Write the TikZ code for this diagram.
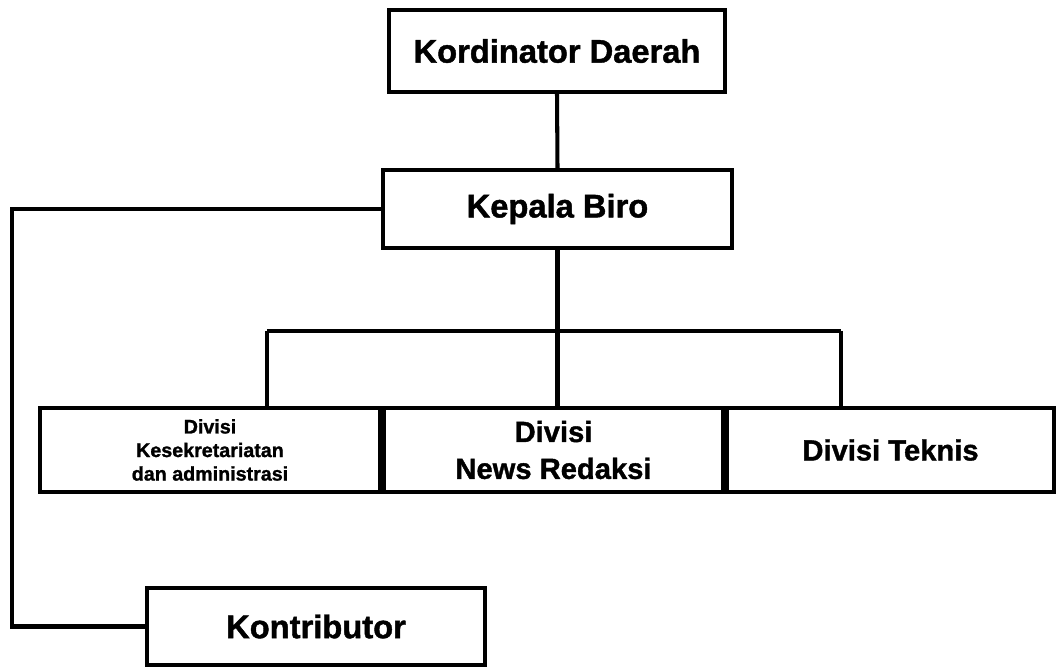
\documentclass[tikz,border=0pt]{standalone}
\usepackage{fontspec}
\setmainfont{Liberation Sans}[BoldFeatures={FakeBold=1.3}]
\usepackage{tikz}
\usetikzlibrary{positioning, calc}

\begin{document}
\begin{tikzpicture}[
    x=0.02cm, y=-0.02cm,
    line width=2.3pt,
    orgbox/.style={draw, line width=2.3pt, align=center, inner sep=0pt},
    bigtxt/.style={font=\bfseries\fontsize{18.6pt}{22pt}\selectfont},
    midtxt/.style={font=\bfseries\fontsize{16.6pt}{21pt}\selectfont},
    smalltxt/.style={font=\bfseries\fontsize{11.2pt}{13.4pt}\selectfont},
]
    \useasboundingbox (0,0) rectangle (1057,668);

    \node[orgbox, bigtxt, minimum width=6.72cm, minimum height=1.64cm] (koord) at (557,51) {Kordinator Daerah};
    \node[orgbox, bigtxt, minimum width=6.98cm, minimum height=1.56cm] (kabiro) at (557.5,209) {Kepala Biro};

    \node[orgbox, smalltxt, minimum width=6.8cm, minimum height=1.68cm] (sekre) at (210,450) {Divisi\\Kesekretariatan\\dan administrasi};
    \node[orgbox, midtxt, minimum width=6.78cm, minimum height=1.68cm] (redaksi) at (553.5,450) {Divisi\\News Redaksi};
    \node[orgbox, midtxt, minimum width=6.54cm, minimum height=1.68cm] (teknis) at (890.5,450) {Divisi Teknis};

    \node[orgbox, bigtxt, minimum width=6.76cm, minimum height=1.54cm] (kontrib) at (316,626.5) {Kontributor};

    % bus line under Kepala Biro
    \coordinate (busL) at (267,331);
    \coordinate (busR) at (841,331);
    \coordinate (side) at (12,0);

    \draw (koord.south) -- (kabiro.north);
    \draw (kabiro.south) -- (kabiro.south |- redaksi.north);
    \draw (busL) -- (busR);
    \draw (busL) -- (busL |- sekre.north);
    \draw (busR) -- (busR |- teknis.north);
    \draw (kabiro.west) -| (side |- kontrib.west) -- (kontrib.west);
\end{tikzpicture}
\end{document}
